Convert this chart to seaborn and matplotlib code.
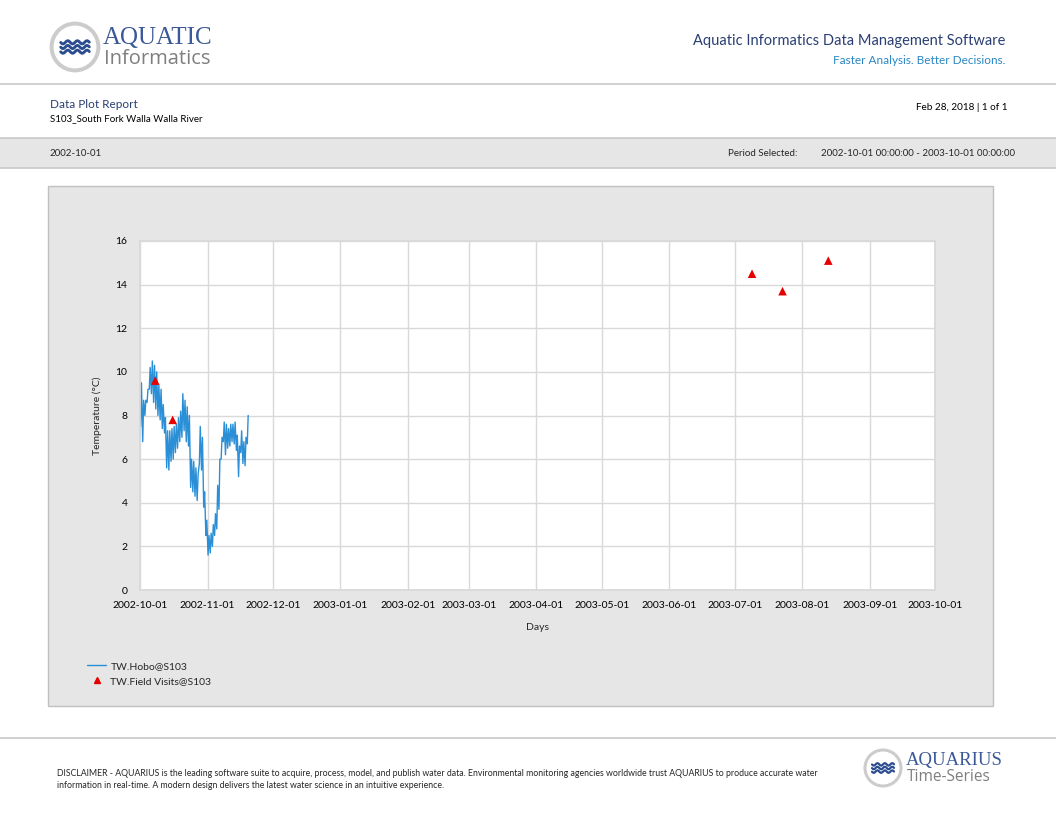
import numpy as np
import pandas as pd
import matplotlib
matplotlib.use("Agg")
import matplotlib.pyplot as plt
import matplotlib.dates as mdates
from matplotlib.patches import Rectangle, Circle
from matplotlib.lines import Line2D
import seaborn as sns

# --- data ---
HOBO_START = "2002-10-01"
hobo_lows = [7.5, 6.8, 8.0, 8.6, 9.2, 9.0, 8.6, 8.3, 8.0, 7.8,
             7.4, 7.2, 5.6, 5.5, 5.9, 6.0, 6.3, 6.5, 6.8, 7.0,
             7.3, 6.8, 6.6, 4.7, 4.5, 4.3, 4.1, 5.8, 5.5, 3.8,
             2.5, 1.6, 1.7, 2.0, 2.5, 2.8, 3.7, 6.0, 6.8, 6.2,
             6.5, 6.6, 6.8, 6.7, 6.4, 5.2, 6.3, 5.8, 5.7, 6.7]
hobo_highs = [9.5, 8.7, 8.7, 9.2, 10.2, 10.5, 10.3, 10.0, 9.4, 9.2,
              8.5, 7.9, 7.3, 7.3, 7.4, 7.5, 7.6, 7.9, 8.2, 9.0,
              8.7, 8.4, 8.0, 6.0, 5.9, 5.6, 5.3, 7.5, 7.0, 4.5,
              3.2, 2.5, 2.6, 3.0, 3.5, 4.8, 6.0, 7.0, 7.7, 7.6,
              7.4, 7.6, 7.6, 7.7, 7.1, 6.6, 7.3, 6.8, 7.0, 8.0]

visit_dates = ["2002-10-08", "2002-10-16", "2003-07-09", "2003-07-23", "2003-08-13"]
visit_temps = [9.6, 7.8, 14.5, 13.7, 15.1]

x_start, x_end = "2002-10-01", "2003-10-01"
y_ticks = [0, 2, 4, 6, 8, 10, 12, 14, 16]

# build the hobo table (one low in the morning, one high in the afternoon)
days = pd.date_range(HOBO_START, periods=len(hobo_lows), freq="D")
rows = []
for d, lo, hi in zip(days, hobo_lows, hobo_highs):
    rows.append((d + pd.Timedelta(hours=6), lo))
    rows.append((d + pd.Timedelta(hours=16), hi))
hobo = pd.DataFrame(rows, columns=["time", "temp"])
visits = pd.DataFrame({"time": pd.to_datetime(visit_dates), "temp": visit_temps})

W, H = 1056, 816
def fx(x): return x / W
def fy(y): return 1 - y / H

sns.set_theme(style="white")
plt.rcParams["font.family"] = ["Lato", "DejaVu Sans"]

NAVY = "#2a3f73"
BLUE_LINE = "#2a8fd6"
GRAYTXT = "#7f7f7f"

fig = plt.figure(figsize=(W / 100, H / 100), dpi=100)
fig.patch.set_facecolor("white")

def hline(y, x0=0, x1=W, color="#c8c8c8", lw=1.2):
    fig.add_artist(Line2D([fx(x0), fx(x1)], [fy(y), fy(y)], color=color, lw=lw,
                          transform=fig.transFigure, zorder=-1))

# --- header ---
def logo(cx, cy, r):
    lax = fig.add_axes([fx(cx - r), fy(cy + r), 2 * r / W, 2 * r / H])
    lax.set_xlim(-1, 1); lax.set_ylim(-1, 1); lax.set_aspect("equal"); lax.axis("off")
    lax.add_patch(Circle((0, 0), 0.9, facecolor="white", edgecolor="#cccccc", lw=r * 0.11))
    t = np.linspace(-0.55, 0.55, 60)
    for off in (0.18, 0.0, -0.18):
        lax.plot(t, off + 0.06 * np.sin(t * 17), color="#2b4c8f", lw=r * 0.08,
                 solid_capstyle="round")

logo(75, 47, 26)
fig.text(fx(103), fy(38), "AQUATIC", family="Liberation Serif", fontsize=18,
         color="#3b5998", va="center", ha="left")
fig.text(fx(104), fy(59), "Informatics", fontsize=14.5, color=GRAYTXT,
         va="center", ha="left", family=["Open Sans", "DejaVu Sans"])
fig.text(fx(1005), fy(41), "Aquatic Informatics Data Management Software",
         fontsize=10.5, color=NAVY, ha="right", va="center")
fig.text(fx(1005), fy(60), "Faster Analysis. Better Decisions.",
         fontsize=8.5, color="#2a86c4", ha="right", va="center")
hline(84)

fig.text(fx(50), fy(104), "Data Plot Report", fontsize=8.5, color=NAVY, va="center")
fig.text(fx(50), fy(119), "S103_South Fork Walla Walla River", fontsize=7,
         color="black", va="center")
fig.text(fx(1007), fy(107), "Feb 28, 2018 | 1 of 1", fontsize=7.2,
         color="black", ha="right", va="center")

# period band
fig.add_artist(Rectangle((0, fy(168)), 1, (168 - 138) / H, transform=fig.transFigure,
                         facecolor="#e6e6e6", edgecolor="none", zorder=-2))
hline(138); hline(168)
fig.text(fx(50), fy(153), "2002-10-01", fontsize=7, va="center")
fig.text(fx(728), fy(153), "Period Selected:", fontsize=7, va="center")
fig.text(fx(1015), fy(153), "2002-10-01 00:00:00 - 2003-10-01 00:00:00",
         fontsize=7, va="center", ha="right")

# chart panel
fig.add_artist(Rectangle((fx(48), fy(706)), (993 - 48) / W, (706 - 186) / H,
                         transform=fig.transFigure, facecolor="#e6e6e6",
                         edgecolor="#c0c0c0", lw=1, zorder=-2))

# --- main plot ---
ax = fig.add_axes([fx(140), fy(590), (935 - 140) / W, (590 - 241) / H])
ax.set_facecolor("white")
sns.lineplot(data=hobo, x="time", y="temp", ax=ax, color=BLUE_LINE, lw=1.0,
             label="TW.Hobo@S103", legend=False)
sns.scatterplot(data=visits, x="time", y="temp", ax=ax, marker="^", s=38,
                color="#e60000", edgecolor="none", label="TW.Field Visits@S103",
                legend=False, zorder=5)

ax.set_xlim(pd.Timestamp(x_start), pd.Timestamp(x_end))
ax.set_ylim(min(y_ticks), max(y_ticks))
ax.set_yticks(y_ticks)
ax.xaxis.set_major_locator(mdates.MonthLocator())
ax.xaxis.set_major_formatter(mdates.DateFormatter("%Y-%m-%d"))
ax.grid(True, color="#d9d9d9", lw=1)
for s in ax.spines.values():
    s.set_color("#d9d9d9")
ax.tick_params(axis="x", length=0, labelsize=7.5, colors="black", pad=8)
ax.tick_params(axis="y", length=0, labelsize=7.5, colors="black", pad=9)
ax.set_xlabel("Days", fontsize=7.5, labelpad=9)
ax.set_ylabel("Temperature (°C)", fontsize=7.5, labelpad=10)

handles = [Line2D([], [], color=BLUE_LINE, lw=1.0),
           Line2D([], [], color="#e60000", marker="^", ls="none", markersize=4.5)]
fig.legend(handles, ["TW.Hobo@S103", "TW.Field Visits@S103"], loc="upper left",
           bbox_to_anchor=(fx(78), fy(652)), frameon=False, fontsize=7.5,
           handlelength=1.8, handletextpad=0.4, labelspacing=0.55)

# --- footer ---
hline(738)
fig.text(fx(57), fy(773),
         "DISCLAIMER - AQUARIUS is the leading software suite to acquire, process, model, "
         "and publish water data. Environmental monitoring agencies worldwide trust "
         "AQUARIUS to produce accurate water", fontsize=6.3, va="center")
fig.text(fx(57), fy(785),
         "information in real-time. A modern design delivers the latest water science "
         "in an intuitive experience.", fontsize=6.3, va="center")
logo(883, 768, 20)
fig.text(fx(906), fy(761), "AQUARIUS", family="Liberation Serif", fontsize=13.5,
         color="#3b5998", va="center")
fig.text(fx(907), fy(777), "Time-Series", fontsize=11.2, color=GRAYTXT, va="center",
         family=["Open Sans", "DejaVu Sans"])

fig.savefig("out.png", dpi=100)
